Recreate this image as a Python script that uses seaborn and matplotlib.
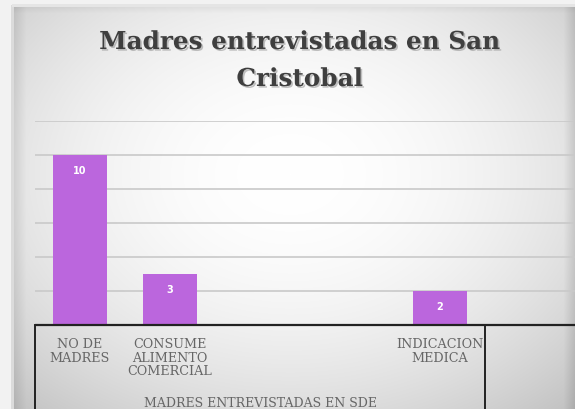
import numpy as np
import pandas as pd
import matplotlib
matplotlib.use("Agg")
import matplotlib.pyplot as plt
import matplotlib.patheffects as pe
import matplotlib.transforms as mtransforms
import seaborn as sns

# ---- data ----
categories = ["NO DE\nMADRES", "CONSUME\nALIMENTO\nCOMERCIAL", "", " ", "INDICACION\nMEDICA", "  "]
bar_categories = ["NO DE\nMADRES", "CONSUME\nALIMENTO\nCOMERCIAL", "INDICACION\nMEDICA"]
bar_values = [10, 3, 2]
group_label = "MADRES ENTREVISTADAS EN SDE"
title_lines = ["Madres entrevistadas en San", "Cristobal"]
y_ticks = [0, 2, 4, 6, 8, 10, 12]

df = pd.DataFrame({"cat": bar_categories, "val": bar_values})

sns.set_theme(style="white")
W, H = 575, 410
fig = plt.figure(figsize=(W / 100, H / 100), dpi=100)

# ---- background panel with gradient / bevel ----
bg = fig.add_axes([0, 0, 1, 1], zorder=-10)
yy, xx = np.mgrid[0:H, 0:W].astype(float)
d = np.sqrt(((xx - 290) / 330) ** 2 + ((yy - 175) / 250) ** 2)
val = 1.0 - 0.15 * np.clip(d, 0, 1.6) ** 2
px0, py0 = 12, 6
left = np.clip((xx - px0) / 14.0, 0, 1)
val *= 0.90 + 0.10 * left
top = np.clip((yy - py0) / 8.0, 0, 1)
val *= 0.94 + 0.06 * top
right = np.clip((W + 2 - xx) / 14.0, 0, 1)
val *= 0.86 + 0.14 * right
outside = (xx < px0) | (yy < py0)
val[outside] = 0.95
val[(yy >= py0) & (np.abs(xx - px0) < 1.5)] = 0.86
val[(xx >= px0) & (np.abs(yy - py0) < 1.2)] = 0.90
val = np.clip(val, 0, 1)
img = np.dstack([val, val, val])
bg.imshow(img, extent=[0, W, H, 0], aspect="auto", interpolation="bilinear")
bg.set_xlim(0, W)
bg.set_ylim(H, 0)
bg.axis("off")

# ---- main axes ----
ax_left = 35 / W
ax_bottom = (H - 326) / H
ax_height = (326 - 122) / H
ax = fig.add_axes([ax_left, ax_bottom, 1 - ax_left, ax_height])
ax.set_facecolor("none")

sns.barplot(data=df, x="cat", y="val", order=categories, color="#bb66dd",
            saturation=1, width=0.59, ax=ax, zorder=3, linewidth=0, edgecolor="none")

ax.set_xlim(-0.5, 5.5)
ax.set_ylim(0, 12)
ax.set_yticks(y_ticks)
ax.yaxis.grid(True, color="#c9c9c9", linewidth=1.2)
ax.set_axisbelow(True)
ax.tick_params(axis="y", left=False, labelleft=False)
ax.tick_params(axis="x", bottom=False, pad=3, labelsize=9.2, labelcolor="#666666")
for lab in ax.get_xticklabels():
    lab.set_fontfamily("DejaVu Serif")
    lab.set_linespacing(1.05)
ax.set_xlabel("")
ax.set_ylabel("")
for s in ax.spines.values():
    s.set_visible(False)

# table lines (category axis)
ax.plot([0, 1], [0, 0], transform=ax.transAxes, color="#222222", lw=1.6, clip_on=False, zorder=5)
ax.plot([0, 0], [0, -1], transform=ax.transAxes, color="#222222", lw=1.4, clip_on=False, zorder=5)
blend = mtransforms.blended_transform_factory(ax.transData, ax.transAxes)
ax.plot([4.5, 4.5], [0, -1], transform=blend, color="#222222", lw=1.4, clip_on=False, zorder=5)

# group label
ax.text(2.0, -(404 - 326) / 204, group_label, transform=blend, ha="center", va="center",
        fontsize=9.0, color="#666666", family="DejaVu Serif", clip_on=False)

# bar value labels
for p in ax.patches:
    h = p.get_height()
    if np.isfinite(h) and h > 0:
        ax.annotate(f"{h:g}", (p.get_x() + p.get_width() / 2, h), xytext=(0, -11),
                    textcoords="offset points", ha="center", va="center",
                    color="white", fontsize=7, fontweight="bold", zorder=6)

# title
shadow = [pe.withSimplePatchShadow(offset=(1.2, -1.2), shadow_rgbFace="#888888", alpha=0.5)]
fig.text(300 / W, 1 - 43 / H, title_lines[0], ha="center", va="center", fontsize=17.8,
         fontweight="bold", family="DejaVu Serif", color="#3f3f3f", path_effects=shadow)
fig.text(300 / W, 1 - 80 / H, title_lines[1], ha="center", va="center", fontsize=17.8,
         fontweight="bold", family="DejaVu Serif", color="#3f3f3f", path_effects=shadow)

fig.savefig("out.png", dpi=100)
